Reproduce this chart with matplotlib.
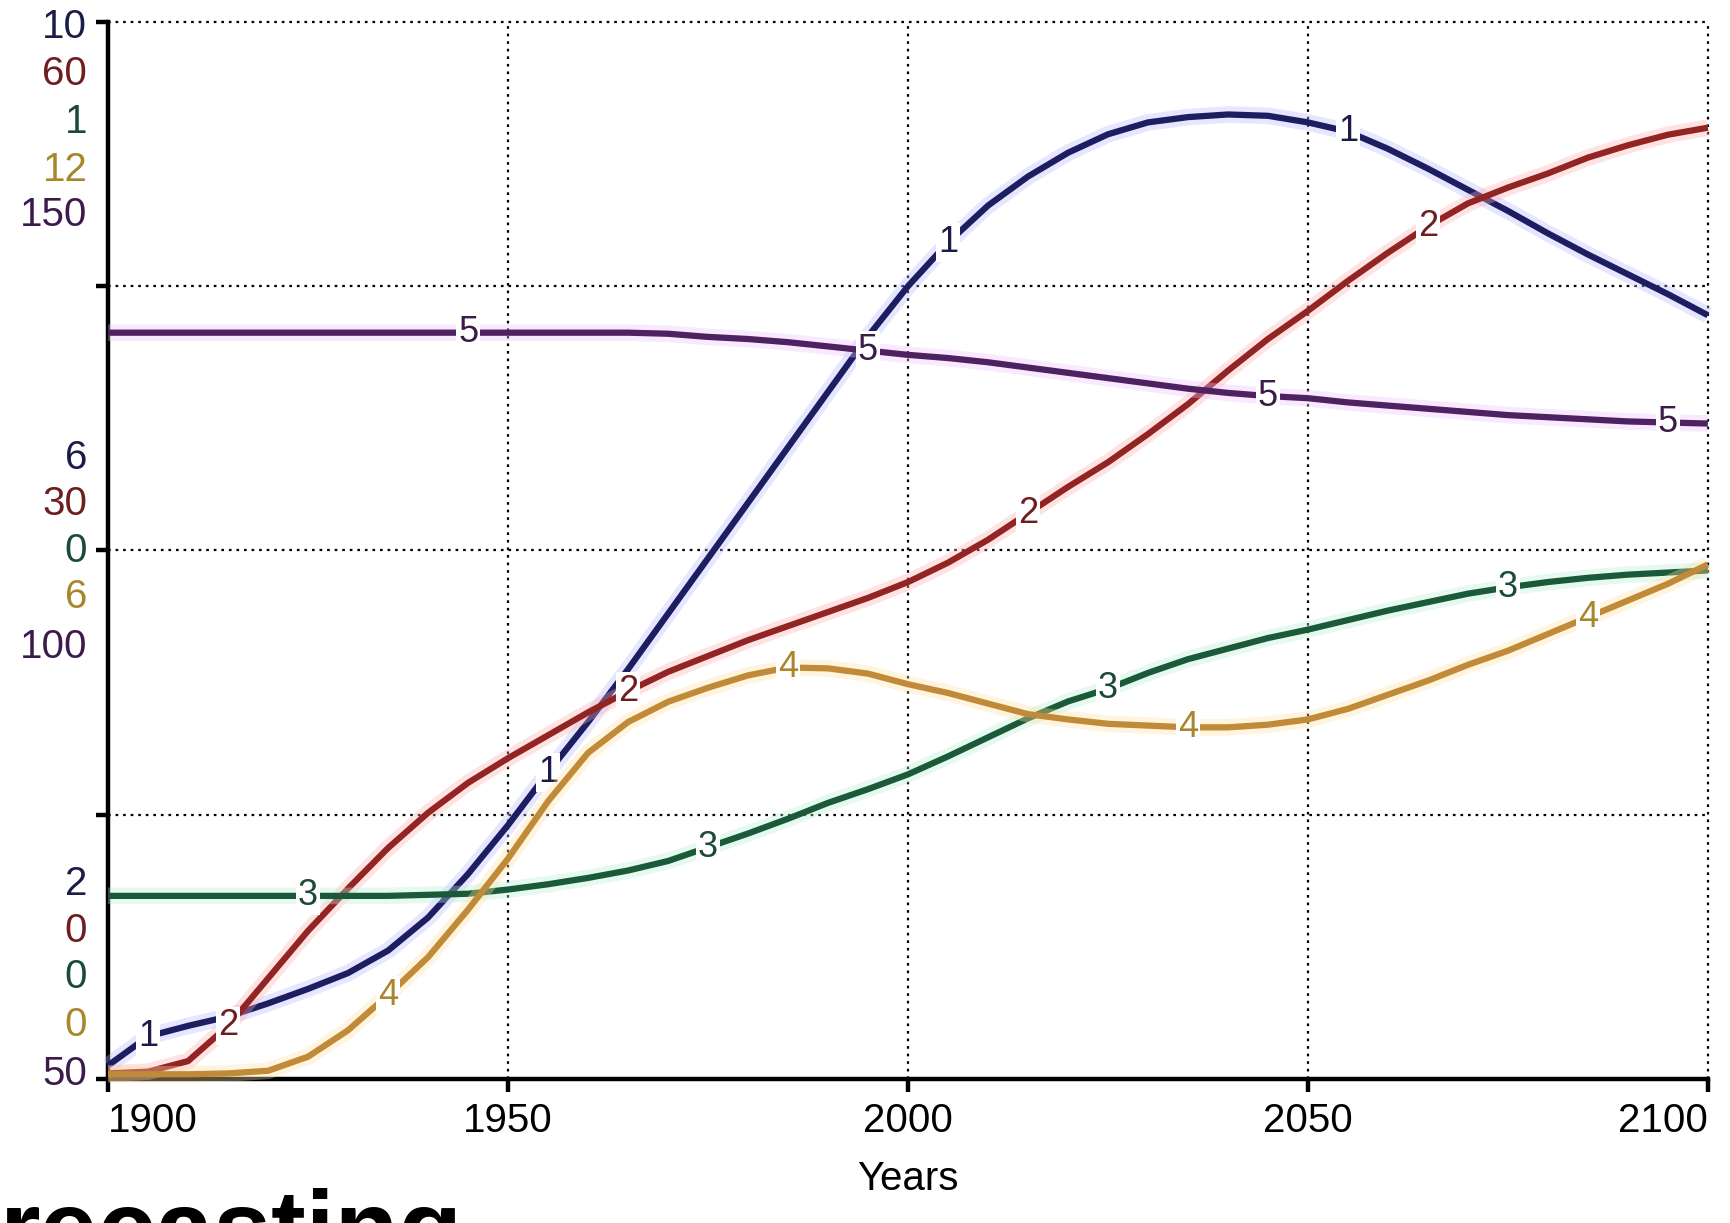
import matplotlib
matplotlib.use("Agg")
import matplotlib.pyplot as plt

plt.rcParams['font.family'] = ['Liberation Sans Narrow', 'Liberation Sans', 'DejaVu Sans']

# data
years = list(range(1900, 2101, 5))

s1 = [2.10, 2.32, 2.40, 2.47, 2.57, 2.68, 2.80, 2.97, 3.22, 3.55, 3.92, 4.32,
      4.70, 5.10, 5.52, 5.94, 6.36, 6.78, 7.20, 7.62, 8.00, 8.33, 8.61, 8.83,
      9.01, 9.15, 9.24, 9.28, 9.30, 9.29, 9.24, 9.17, 9.04, 8.89, 8.73, 8.57,
      8.40, 8.24, 8.09, 7.94, 7.78]
s2 = [0.3, 0.4, 1.0, 3.0, 5.7, 8.4, 10.8, 13.1, 15.1, 16.8, 18.2, 19.5,
      20.8, 22.0, 23.1, 24.0, 24.9, 25.7, 26.5, 27.3, 28.2, 29.3, 30.6, 32.1,
      33.6, 35.0, 36.6, 38.3, 40.2, 42.0, 43.6, 45.3, 46.9, 48.4, 49.7, 50.6,
      51.4, 52.3, 53.0, 53.6, 54.0]
s3 = [0.173, 0.173, 0.173, 0.173, 0.173, 0.173, 0.173, 0.173, 0.174, 0.175,
      0.179, 0.184, 0.19, 0.197, 0.206, 0.219, 0.232, 0.246, 0.261, 0.274,
      0.288, 0.305, 0.323, 0.341, 0.357, 0.369, 0.384, 0.397, 0.407, 0.417,
      0.425, 0.434, 0.443, 0.451, 0.459, 0.465, 0.47, 0.474, 0.477, 0.479,
      0.481]
s4 = [0.05, 0.05, 0.05, 0.06, 0.09, 0.25, 0.55, 0.95, 1.38, 1.92, 2.50, 3.15,
      3.70, 4.05, 4.28, 4.44, 4.58, 4.67, 4.66, 4.60, 4.48, 4.38, 4.26, 4.14,
      4.08, 4.03, 4.01, 3.99, 3.99, 4.02, 4.08, 4.20, 4.36, 4.52, 4.70, 4.86,
      5.05, 5.24, 5.43, 5.62, 5.84]
s5 = [120.6, 120.6, 120.6, 120.6, 120.6, 120.6, 120.6, 120.6, 120.6, 120.6,
      120.6, 120.6, 120.6, 120.6, 120.5, 120.2, 120.0, 119.7, 119.3, 118.9,
      118.5, 118.2, 117.8, 117.3, 116.8, 116.3, 115.8, 115.3, 114.9, 114.6,
      114.4, 114.0, 113.7, 113.4, 113.1, 112.8, 112.6, 112.4, 112.2, 112.1,
      112.0]

series = [s1, s2, s3, s4, s5]
ranges = [(2, 10), (0, 60), (0, 1), (0, 12), (50, 150)]
top_labels = ['10', '60', '1', '12', '150']
mid_labels = ['6', '30', '0', '6', '100']
bot_labels = ['2', '0', '0', '0', '50']
label_years = [[1905, 1955, 2005, 2055],
               [1915, 1965, 2015, 2065],
               [1925, 1975, 2025, 2075],
               [1935, 1985, 2035, 2085],
               [1945, 1995, 2045, 2095]]
xticks = [1900, 1950, 2000, 2050, 2100]

line_colors = ['#1d1d62', '#922424', '#1b5a38', '#c08a38', '#4e2160']
halo_colors = ['#b8b8ff', '#ffb0b0', '#b8f0d8', '#ffe0a0', '#f0c0ff']
text_colors = ['#1c1c48', '#6e1e1e', '#1b4a36', '#a8862c', '#3c1a4a']

fig = plt.figure(figsize=(17.3, 12.23), dpi=100)
ax = fig.add_axes([0.0625, 0.118, 0.9247, 0.864])
ax.set_xlim(1900, 2100)
ax.set_ylim(0, 1)

# dotted grid, including the top and right borders
for gx in xticks[1:]:
    ax.axvline(gx, color='black', lw=1.6, ls=(0, (1.2, 2.2)), clip_on=False, zorder=1)
for gy in [0.25, 0.5, 0.75, 1.0]:
    ax.axhline(gy, color='black', lw=1.6, ls=(0, (1.2, 2.2)), clip_on=False, zorder=1)

for side in ['top', 'right']:
    ax.spines[side].set_visible(False)
for side in ['left', 'bottom']:
    ax.spines[side].set_linewidth(3.2)
    ax.spines[side].set_zorder(5)

ax.set_yticks([0, 0.25, 0.5, 0.75, 1.0])
ax.set_yticklabels([])
ax.set_xticks(xticks)
ax.set_xticklabels([str(t) for t in xticks], fontsize=29)
ax.tick_params(axis='both', direction='out', length=9, width=3.2, pad=8)
tl = ax.get_xticklabels()
tl[0].set_ha('left')
tl[-1].set_ha('right')
ax.set_xlabel('Years', fontsize=29, labelpad=14)

# left stacked scale labels
stack_y = {
    'top': [0.995, 0.951, 0.905, 0.860, 0.817],
    'mid': [0.587, 0.544, 0.499, 0.456, 0.409],
    'bot': [0.184, 0.140, 0.096, 0.051, 0.004],
}
for labels, key in [(top_labels, 'top'), (mid_labels, 'mid'), (bot_labels, 'bot')]:
    for i, lab in enumerate(labels):
        ax.text(-0.013, stack_y[key][i], lab, transform=ax.transAxes,
                ha='right', va='center', fontsize=29, color=text_colors[i])

# each series on its own scale
for i, (vals, (lo, hi)) in enumerate(zip(series, ranges)):
    tw = ax.twinx()
    tw.set_ylim(lo, hi)
    tw.set_xlim(1900, 2100)
    tw.set_axis_off()
    tw.set_zorder(2 + i)
    tw.plot(years, vals, color=halo_colors[i], lw=12, alpha=0.35,
            solid_capstyle='butt', solid_joinstyle='round', clip_on=False)
    tw.plot(years, vals, color=line_colors[i], lw=4.5, solid_capstyle='butt',
            solid_joinstyle='round', clip_on=False)
    for yr in label_years[i]:
        v = vals[years.index(yr)]
        tw.text(yr, v, str(i + 1), ha='center', va='center', fontsize=26,
                color=text_colors[i],
                bbox=dict(boxstyle='square,pad=0.05', fc='white', ec='none'))

fig.text(0.0, -0.033, 'recasting', fontsize=75, fontweight='bold',
         family=['Liberation Sans', 'DejaVu Sans'], ha='left', va='baseline')

fig.savefig('out.png', dpi=100)
